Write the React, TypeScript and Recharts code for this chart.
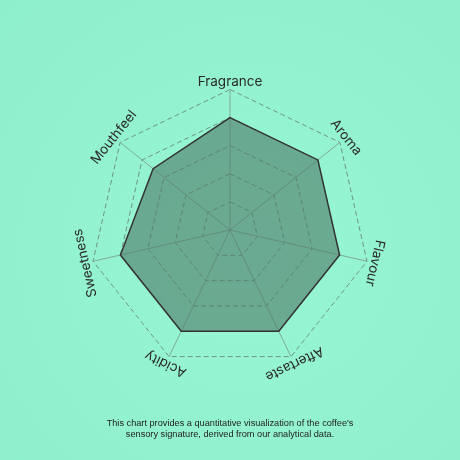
import React from "react";
import { RadarChart, Radar, PolarGrid, PolarAngleAxis, PolarRadiusAxis } from "recharts";

const attributes = ["Fragrance", "Aroma", "Flavour", "Aftertaste", "Acidity", "Sweetness", "Mouthfeel"];
const scores = [8, 8, 8, 8, 8, 8, 7];
const radiusDomain = [0, 10];
const captionLines = [
  "This chart provides a quantitative visualization of the coffee's",
  "sensory signature, derived from our analytical data.",
];

const data = attributes.map((a, i) => ({ attribute: a, score: scores[i] }));

const CX = 230;
const CY = 230;
const R = 140.5;
const RAD = Math.PI / 180;

const AngleTick = (props: any) => {
  const { payload } = props;
  const theta = payload.coordinate;
  const r = R + 4;
  const x = CX + r * Math.cos(-theta * RAD);
  const y = CY + r * Math.sin(-theta * RAD);
  const rot = 90 - theta;
  return (
    <text
      x={x}
      y={y}
      textAnchor="middle"
      transform={`rotate(${rot}, ${x}, ${y})`}
      fill="#2a2a2a"
      fontSize={13.5}
      fontFamily="Inter, 'Noto Sans', sans-serif"
    >
      {payload.value}
    </text>
  );
};

export default function App() {
  return (
    <div
      style={{
        position: "fixed",
        left: 0,
        top: 0,
        width: 460,
        height: 460,
        background: "radial-gradient(circle at 55% 55%, #97f6d4 0%, #92f1cf 60%, #8eefcc 100%)",
        overflow: "hidden",
      }}
    >
      <RadarChart width={460} height={460} data={data} cx={CX} cy={CY} outerRadius={R} margin={{ top: 0, right: 0, bottom: 0, left: 0 }}>
        <PolarGrid gridType="polygon" radialLines={false} stroke="#6f9686" strokeDasharray="5 3" />
        <PolarGrid gridType="polygon" polarRadius={[]} stroke="#80aa9a" />
        <PolarAngleAxis dataKey="attribute" tick={<AngleTick />} tickLine={false} axisLine={false} />
        <PolarRadiusAxis domain={radiusDomain} tickCount={6} tick={false} axisLine={false} />
        <Radar
          dataKey="score"
          stroke="#333333"
          strokeWidth={1.5}
          fill="#4e7866"
          fillOpacity={0.6}
          isAnimationActive={false}
        />
      </RadarChart>
      <div
        style={{
          position: "absolute",
          left: 0,
          top: 418,
          width: 460,
          textAlign: "center",
          fontFamily: "'Liberation Sans', Arial, sans-serif",
          fontSize: 9.2,
          lineHeight: "11px",
          color: "#1e1e1e",
        }}
      >
        {captionLines.map((l, i) => (
          <div key={i}>{l}</div>
        ))}
      </div>
    </div>
  );
}
